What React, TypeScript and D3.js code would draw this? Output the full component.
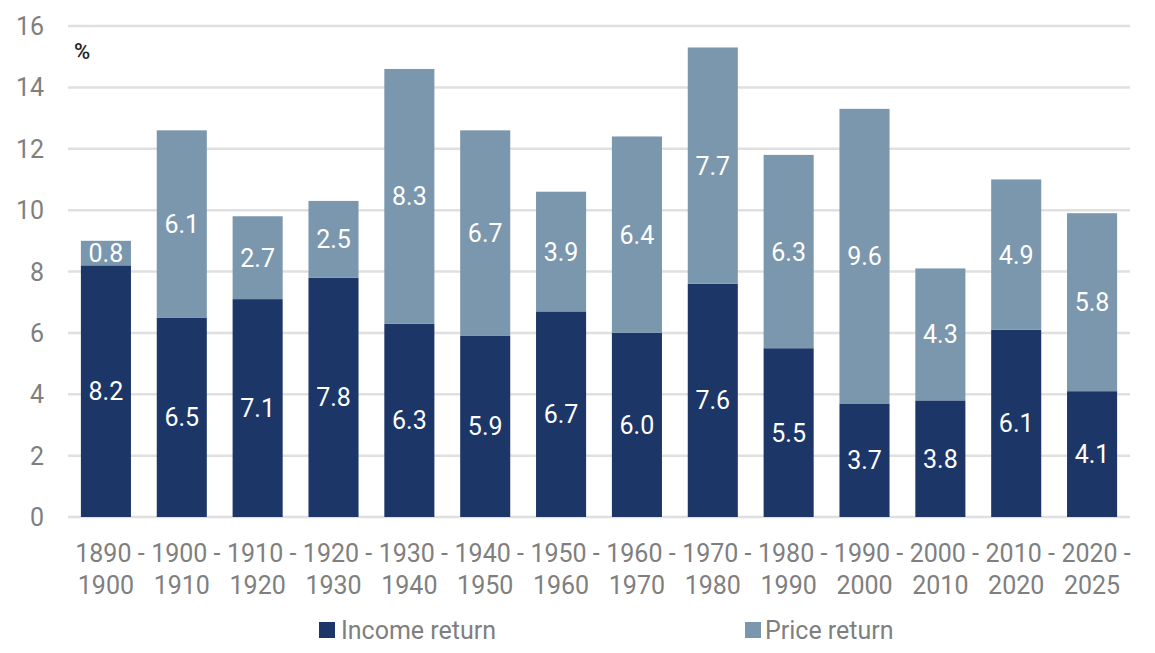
import React from "react";
import * as d3 from "d3";

const categories = [
  ["1890 -", "1900"], ["1900 -", "1910"], ["1910 -", "1920"], ["1920 -", "1930"],
  ["1930 -", "1940"], ["1940 -", "1950"], ["1950 -", "1960"], ["1960 -", "1970"],
  ["1970 -", "1980"], ["1980 -", "1990"], ["1990 -", "2000"], ["2000 -", "2010"],
  ["2010 -", "2020"], ["2020 -", "2025"],
];
const incomeReturn = [8.2, 6.5, 7.1, 7.8, 6.3, 5.9, 6.7, 6.0, 7.6, 5.5, 3.7, 3.8, 6.1, 4.1];
const priceReturn = [0.8, 6.1, 2.7, 2.5, 8.3, 6.7, 3.9, 6.4, 7.7, 6.3, 9.6, 4.3, 4.9, 5.8];
const yTicks = [0, 2, 4, 6, 8, 10, 12, 14, 16];

const W = 1155, H = 653;
const left = 68, right = 1130, top = 26, bottom = 517;
const C_INC = "#1c3668";
const C_PRICE = "#7a97ad";
const FONT = "Roboto, 'Noto Sans', sans-serif";
const FS = 25;

export default function App() {
  const keys = categories.map((c) => c.join(" "));
  const x = d3.scaleBand<string>().domain(keys).range([left, right]).paddingInner(0.34).paddingOuter(0.17);
  const y = d3.scaleLinear().domain([0, 16]).range([bottom, top]);
  const bw = x.bandwidth();

  return (
    <svg width={W} height={H} style={{ position: "absolute", left: 0, top: 0 }} fontFamily={FONT}>
      <rect width={W} height={H} fill="#fff" />
      {yTicks.map((t) => (
        <g key={t}>
          <line x1={left} x2={right} y1={y(t)} y2={y(t)} stroke="#e0e0e0" strokeWidth={2.5} />
          <text x={44} y={y(t)} dy="0.36em" textAnchor="end" fontSize={FS} fill="#7f7f7f">{t}</text>
        </g>
      ))}
      <text x={74} y={59} fontSize={22} fill="#222" fontWeight={500}>%</text>
      {keys.map((k, i) => {
        const x0 = x(k)!;
        const inc = incomeReturn[i];
        const pr = priceReturn[i];
        return (
          <g key={k}>
            <rect x={x0} y={y(inc)} width={bw} height={y(0) - y(inc)} fill={C_INC} />
            <rect x={x0} y={y(inc + pr)} width={bw} height={y(inc) - y(inc + pr)} fill={C_PRICE} />
            <text x={x0 + bw / 2} y={y(inc / 2)} dy="0.36em" textAnchor="middle" fontSize={FS} fill="#fff">{inc.toFixed(1)}</text>
            <text x={x0 + bw / 2} y={y(inc + pr / 2)} dy="0.36em" textAnchor="middle" fontSize={FS} fill="#fff">{pr.toFixed(1)}</text>
            <text x={x0 + bw / 2 + 4} y={553} dy="0.36em" textAnchor="middle" fontSize={FS} fill="#7f7f7f">
              {categories[i][0]}
            </text>
            <text x={x0 + bw / 2} y={585} dy="0.36em" textAnchor="middle" fontSize={FS} fill="#7f7f7f">
              {categories[i][1]}
            </text>
          </g>
        );
      })}
      <rect x={319} y={622} width={16} height={16} fill={C_INC} />
      <text x={341} y={630} dy="0.36em" fontSize={FS} fill="#7f7f7f">Income return</text>
      <rect x={745} y={622} width={16} height={16} fill={C_PRICE} />
      <text x={765} y={630} dy="0.36em" fontSize={FS} fill="#7f7f7f">Price return</text>
    </svg>
  );
}
